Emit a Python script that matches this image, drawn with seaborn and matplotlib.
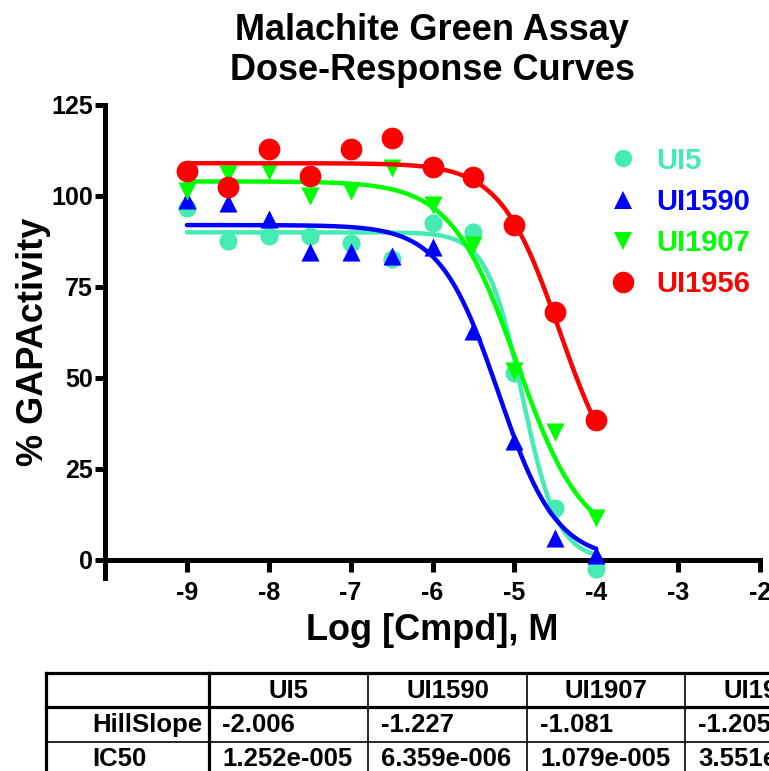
import numpy as np
import pandas as pd
import matplotlib
matplotlib.use("Agg")
import matplotlib.pyplot as plt
import seaborn as sns
from matplotlib.lines import Line2D

# ---------------- data ----------------
log_dose = [-9, -8.5, -8, -7.5, -7, -6.5, -6, -5.5, -5, -4.5, -4]
compounds = ["UI5", "UI1590", "UI1907", "UI1956"]
ui5 = [96.6, 87.7, 89.1, 89.1, 87.2, 82.8, 92.7, 90.2, 51.3, 14.3, -2.5]
ui1590 = [98.8, 98.0, 93.8, 84.7, 84.7, 83.6, 86.1, 62.9, 32.6, 6.1, 1.4]
ui1907 = [101.5, 106.0, 106.8, 99.9, 101.3, 107.6, 97.4, 86.4, 51.9, 35.0, 11.6]
ui1956 = [106.8, 102.6, 112.9, 105.4, 112.9, 115.9, 107.9, 105.1, 91.9, 68.2, 38.4]
hill_slope = [-2.006, -1.227, -1.081, -1.205]
ic50 = [1.252e-05, 6.359e-06, 1.079e-05, 3.551e-05]
fit_top = [90, 92, 104, 109]
fit_bottom = [0, 0, 4, 17]
x_ticks = [-9, -8, -7, -6, -5, -4, -3, -2]
y_ticks = [0, 25, 50, 75, 100, 125]
row_labels = ["HillSlope", "IC50"]

# ---------------- style ----------------
colors = ["#44EBB2", "#0000FF", "#00FF00", "#FF0000"]
markers = ["o", "^", "v", "o"]
sizes = [170, 170, 170, 245]
legend_ms = [12.5, 12.5, 12.5, 15.5]

sns.set_theme(style="white")
plt.rcParams["font.family"] = ["Liberation Sans", "DejaVu Sans"]
plt.rcParams["font.weight"] = "bold"
plt.rcParams["axes.labelweight"] = "bold"
plt.rcParams["text.color"] = "black"
plt.rcParams["axes.labelcolor"] = "black"
plt.rcParams["xtick.color"] = "black"
plt.rcParams["ytick.color"] = "black"

W, H = 769, 771
fig = plt.figure(figsize=(W / 100, H / 100), dpi=100)
ax = fig.add_axes([105 / W, 1 - 578 / H, 655 / W, 473 / H])

series = [ui5, ui1590, ui1907, ui1956]
x_fit = np.linspace(min(log_dose), max(log_dose), 300)
for i, name in enumerate(compounds):
    log_ic50 = np.log10(ic50[i])
    y_fit = fit_bottom[i] + (fit_top[i] - fit_bottom[i]) / (
        1 + 10 ** ((log_ic50 - x_fit) * hill_slope[i]))
    df_fit = pd.DataFrame({"x": x_fit, "y": y_fit})
    sns.lineplot(data=df_fit, x="x", y="y", color=colors[i], linewidth=3.2,
                 ax=ax, zorder=3 + 2 * i)
    df_pts = pd.DataFrame({"x": log_dose, "y": series[i]})
    sns.scatterplot(data=df_pts, x="x", y="y", color=colors[i], marker=markers[i],
                    s=sizes[i], linewidth=0, ax=ax, zorder=4 + 2 * i, clip_on=False)

ax.set_xlim(-10, -2)
ax.set_ylim(-5, 125)
ax.set_xticks(x_ticks)
ax.set_yticks(y_ticks)
ax.set_xticklabels([str(t) for t in x_ticks])
ax.set_yticklabels([str(t) for t in y_ticks])

for s in ["top", "right"]:
    ax.spines[s].set_visible(False)
ax.spines["bottom"].set_position(("data", 0))
for s in ["left", "bottom"]:
    ax.spines[s].set_linewidth(3.6)
    ax.spines[s].set_color("black")
    ax.spines[s].set_capstyle("projecting")

ax.tick_params(axis="x", direction="out", length=8.5, width=3.6, pad=6.5,
               labelsize=18, colors="black", bottom=True)
ax.tick_params(axis="y", direction="out", length=7, width=3.6, pad=1.5,
               labelsize=18, colors="black", left=True)
for lab in ax.get_xticklabels() + ax.get_yticklabels():
    lab.set_fontweight("bold")

ax.set_xlabel("Log [Cmpd], M", fontsize=26, fontweight="bold", labelpad=6,
              color="black")
ax.set_ylabel("% GAPActivity", fontsize=26, fontweight="bold", labelpad=0,
              color="black")
ax.xaxis.set_label_coords(0.5, -0.075)

fig.text(432 / W, 1 - 50.5 / H, "Malachite Green Assay\nDose-Response Curves",
         ha="center", va="center", fontsize=26, fontweight="bold", linespacing=1.2,
         color="black")

handles = [Line2D([], [], ls="none", marker=markers[i], ms=legend_ms[i],
                  color=colors[i], markeredgewidth=0) for i in range(4)]
leg = ax.legend(handles, compounds, loc="upper left", bbox_to_anchor=(0.768, 0.912),
                frameon=False, prop={"size": 21, "weight": "bold"},
                labelcolor=colors, handlelength=1.0, handletextpad=0.66,
                borderpad=0, borderaxespad=0, labelspacing=0.45)

# ---------------- parameter table ----------------
tab = fig.add_axes([0, 0, 1, 1], zorder=10)
tab.set_xlim(0, W)
tab.set_ylim(H, 0)
tab.axis("off")
col_w = [163, 159, 159, 158, 159]
col_x = [46]
for w in col_w:
    col_x.append(col_x[-1] + w)
row_y = [673, 707, 742, 777]
thick, thin = 2.3, 1.2
x0, x1 = col_x[0], col_x[-1]
for k, y in enumerate(row_y):
    lw = thick if k in (0, 1, 3) else thin
    tab.plot([x0, x1], [y, y], color="black", lw=lw, clip_on=False,
             solid_capstyle="projecting")
for k, x in enumerate(col_x):
    lw = thick if k in (0, 1, len(col_x) - 1) else thin
    tab.plot([x, x], [row_y[0], row_y[-1]], color="black", lw=lw, clip_on=False,
             solid_capstyle="projecting")


def fmt_sci(v):
    m, e = f"{v:.3e}".split("e")
    return f"{m}e{int(e):+04d}"


tfs = 18.5
base = [698, 732, 766]
for j, name in enumerate(compounds):
    cx = (col_x[j + 1] + col_x[j + 2]) / 2
    tab.text(cx, base[0], name, ha="center", va="baseline", fontsize=tfs,
             fontweight="bold", clip_on=False, color="black")
    tab.text(col_x[j + 1] + 13, base[1], f"{hill_slope[j]:.3f}", ha="left",
             va="baseline", fontsize=tfs, fontweight="bold", clip_on=False,
             color="black")
    tab.text(col_x[j + 1] + 13, base[2], fmt_sci(ic50[j]), ha="left",
             va="baseline", fontsize=tfs, fontweight="bold", clip_on=False,
             color="black")
for r, lab in enumerate(row_labels):
    tab.text(92, base[r + 1], lab, ha="left", va="baseline", fontsize=tfs,
             fontweight="bold", clip_on=False, color="black")

fig.savefig("out.png", dpi=100, facecolor="white")
